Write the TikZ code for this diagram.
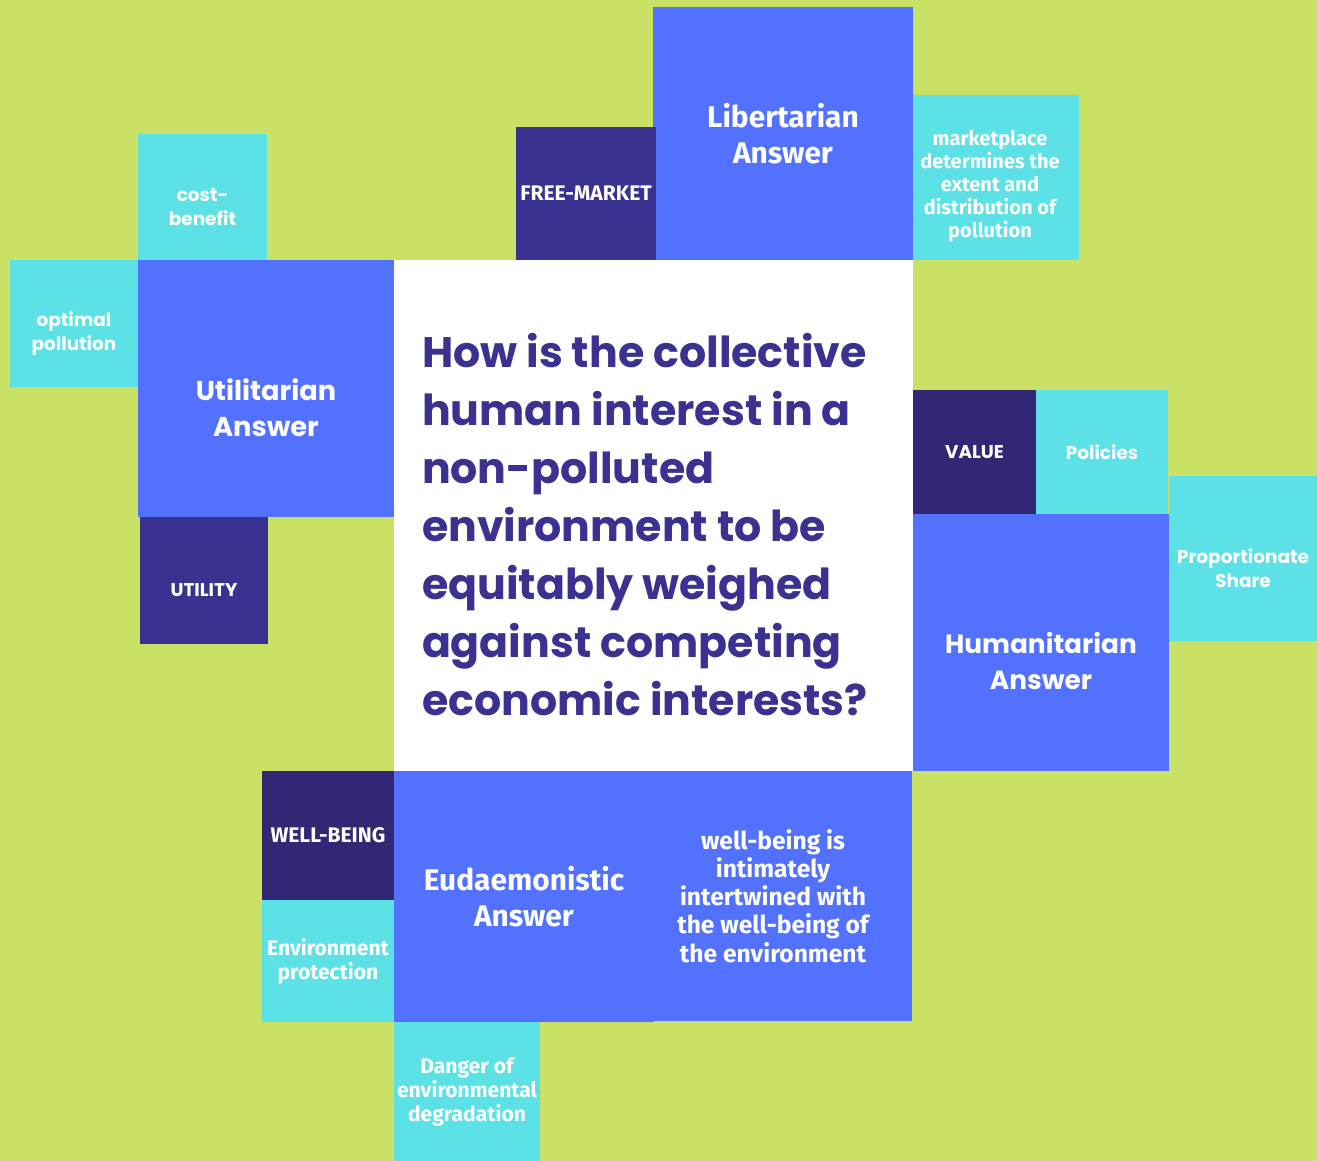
\documentclass[tikz,border=0pt]{standalone}
\usepackage{fontspec}
\setmainfont{Poppins}
\newfontfamily\narrowfont{Fira Sans}
\usetikzlibrary{positioning}
\definecolor{themeGreen}{HTML}{C9E265}
\definecolor{themeBlue}{HTML}{5271FF}
\definecolor{themeCyan}{HTML}{5CE1E6}
\definecolor{themeIndigo}{HTML}{3B3190}
\definecolor{themeNavy}{HTML}{302775}

\begin{document}
\begin{tikzpicture}[
        box/.style={inner sep=0pt, outer sep=0pt, align=center, text=white},
        answer/.style={box, fill=themeBlue, font=\bfseries\fontsize{15.5}{20.5}\selectfont},
        keyword/.style={box, fill=themeIndigo, font=\bfseries\fontsize{10.5}{13}\selectfont},
        idea/.style={box, fill=themeCyan, font=\bfseries\fontsize{10.5}{13.5}\selectfont},
        answer text/.style={box, font=\bfseries\fontsize{15.5}{20.5}\selectfont},
        small text/.style={box, font=\bfseries\fontsize{10.5}{13.5}\selectfont},
        % narrower face for some of the boxes
        narrow/.style={font=\narrowfont\bfseries\fontsize{17}{20.5}\selectfont},
        narrow small/.style={font=\narrowfont\bfseries\fontsize{12}{13.6}\selectfont},
        question/.style={box, align=left, text=themeIndigo, font=\bfseries\fontsize{24.3}{33}\selectfont},
    ]

    \fill[themeGreen] (0,0) rectangle (26.34,-23.22);
    \useasboundingbox (0,0) rectangle (26.34,-23.22);

    % central question
    \path (7.88,-5.2) node[box, fill=white, anchor=north west, minimum width=10.38cm, minimum height=10.22cm] (q) {};
    \path (q.west) ++(0.56,-0.18) node[question, anchor=west] (q text) {How is the collective\\human interest in a\\non-polluted\\environment to be\\equitably weighed\\against competing\\economic interests?};

    % Libertarian
    \path (q.north east) node[answer, narrow, anchor=south east, minimum width=5.2cm, minimum height=5.06cm] (lib) {Libertarian\\Answer};
    \path (lib.south west) ++(0.06,0) node[keyword, narrow small, anchor=south east, minimum width=2.8cm, minimum height=2.66cm] (free market) {FREE-MARKET};
    \path (q.north east) node[idea, anchor=south west, minimum width=3.32cm, minimum height=3.3cm] (market) {};
    \path (market.center) ++(-0.12,-0.17) node[small text, font=\narrowfont\bfseries\fontsize{11.4}{13}\selectfont] (market text) {marketplace\\determines the\\extent and\\distribution of\\pollution};

    % Utilitarian
    \path (q.north west) node[answer, anchor=north east, minimum width=5.12cm, minimum height=5.14cm] (util) {};
    \path (util.center) ++(0,-0.39) node[answer text] (util text) {Utilitarian\\Answer};
    \path (util.north west) node[idea, anchor=south west, minimum width=2.58cm, minimum height=2.52cm] (cost) {};
    \path (cost.center) ++(0,-0.2) node[small text] (cost text) {cost-\\benefit};
    \path (util.north west) node[idea, anchor=north east, minimum width=2.56cm, minimum height=2.54cm] (optimal) {};
    \path (optimal.center) ++(0,-0.2) node[small text] (optimal text) {optimal\\pollution};
    \path (util.south west) ++(0.04,0) node[keyword, anchor=north west, minimum width=2.56cm, minimum height=2.54cm] (utility) {};
    \path (utility.center) ++(0,-0.19) node[small text] (utility text) {UTILITY};

    % Humanitarian
    \path (q.south east) node[answer, anchor=south west, minimum width=5.12cm, minimum height=5.14cm] (human) {};
    \path (human.center) ++(0,-0.37) node[answer text, font=\bfseries\fontsize{15}{20.5}\selectfont] (human text) {Humanitarian\\Answer};
    \path (human.north west) node[keyword, fill=themeNavy, anchor=south west, minimum width=2.46cm, minimum height=2.48cm] (value) {VALUE};
    \path (value.south east) node[idea, anchor=south west, minimum width=2.64cm, minimum height=2.48cm] (policies) {Policies};
    \path (human.north east) ++(0,0.76) node[idea, anchor=north west, minimum width=2.96cm, minimum height=3.3cm] (share) {};
    \path (share.center) ++(0,-0.19) node[small text] (share text) {Proportionate\\Share};

    % Eudaemonistic
    \path (q.south west) node[answer, narrow, anchor=north west, minimum width=5.2cm, minimum height=5.02cm] (eud) {Eudaemonistic\\Answer};
    \path (eud.north east) node[answer, anchor=north west, minimum width=5.16cm, minimum height=5cm] (link) {};
    \path (link.center) ++(-0.2,0) node[small text, font=\narrowfont\bfseries\fontsize{14}{16}\selectfont] (link text) {well-being is\\intimately\\intertwined with\\the well-being of\\the environment};
    \path (eud.north west) node[keyword, narrow small, fill=themeNavy, anchor=north east, minimum width=2.64cm, minimum height=2.58cm] (well being) {WELL-BEING};
    \path (well being.south) node[idea, narrow small, anchor=north, minimum width=2.64cm, minimum height=2.44cm] (protect) {Environment\\protection};
    \path (eud.south west) node[idea, narrow small, anchor=north west, minimum width=2.92cm, minimum height=2.78cm] (danger) {Danger of\\environmental\\degradation};

\end{tikzpicture}
\end{document}
